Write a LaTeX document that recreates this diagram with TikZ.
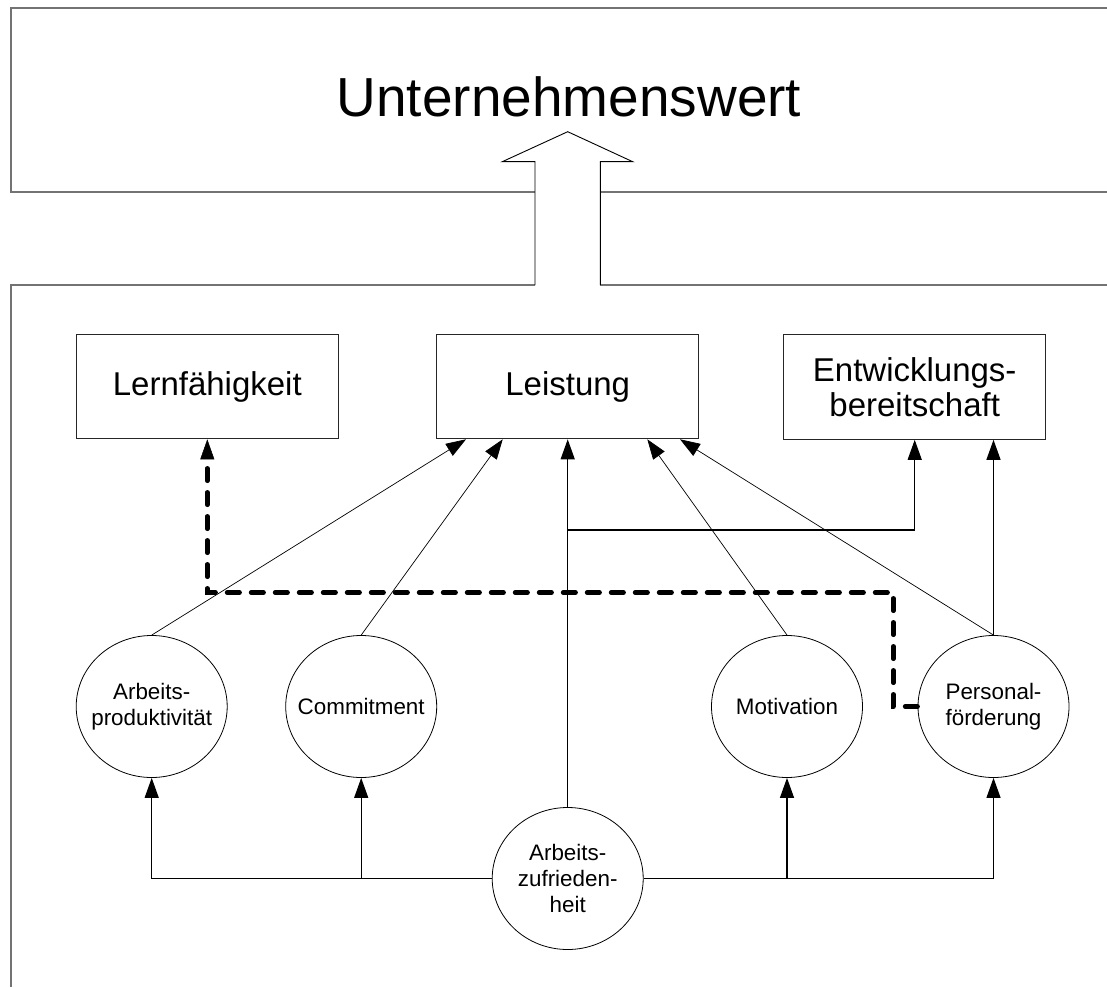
\documentclass[tikz,border=0pt]{standalone}
\usepackage{fontspec}
\setmainfont{Liberation Sans}
\usetikzlibrary{arrows.meta,shapes.geometric,calc}
\tikzset{
  box/.style={draw=black!85, line width=1.1pt, minimum width=262pt, minimum height=104.5pt, inner sep=0pt, align=center, font=\fontsize{33}{35.3}\selectfont},
  circ/.style={ellipse, draw=black, line width=0.8pt, minimum width=151pt, minimum height=142pt, inner sep=0pt},
  ctext/.style={inner sep=0pt, align=center, font=\fontsize{22.4}{25.8}\selectfont},
  frame/.style={draw=black!55, line width=1.5pt},
  thinarrow/.style={line width=0.7pt, -{Triangle[length=20pt,width=14pt]}},
  ortharrow/.style={line width=1.2pt, -{Triangle[length=20pt,width=14pt]}},
  dasharrow/.style={line width=4.5pt, line cap=round, dash pattern=on 12.5pt off 11.5pt, -{Triangle[length=20pt,width=14pt,line width=0.5pt]}},
  bigarrow/.style={draw=black, line width=0.9pt},
}
\begin{document}
\begin{tikzpicture}[x=1pt,y=-1pt]
\useasboundingbox (0,0) rectangle (1107,987);
% frames
\draw[frame] (535,192) -- (11,192) -- (11,8) -- (1107,8);
\draw[frame] (600.3,192) -- (1107,192);
\draw[frame] (535,285) -- (11,285) -- (11,987);
\draw[frame] (600.3,285) -- (1107,285);
% big arrow
\draw[bigarrow, fill=white] (535,285) -- (535,161.7) -- (502.3,161.7) -- (567.7,131.7) -- (632.7,161.7) -- (600.3,161.7) -- (600.3,285);
\node[font=\fontsize{55}{60}\selectfont, anchor=base, inner sep=0pt] (uw) at (569,116.7) {Unternehmenswert};
% boxes
\node[box] (lern) at (207.3,386.5) {\raisebox{-2pt}{Lernfähigkeit}};
\node[box] (leist) at (567.7,386.5) {\raisebox{-2pt}{Leistung}};
\node[box] (entw) at (914.7,387) {Entwicklungs-\\bereitschaft};
% circles
\node[circ, label={[ctext]center:Arbeits-\\produktivität}] (ap) at (151.7,706.5) {};
\node[circ, label={[ctext]center:Commitment}] (com) at (361.2,706.5) {};
\node[circ, label={[ctext]center:Motivation}] (mot) at (787,706.5) {};
\node[circ, label={[ctext]center:Personal-\\förderung}] (pf) at (993.5,706.5) {};
\node[circ, label={[ctext]center:Arbeits-\\zufrieden-\\heit}] (az) at (567.7,878.5) {};
% connectors to Leistung
\draw[thinarrow] (ap.north) -- ($(leist.south)+(-101.7,0)$);
\draw[thinarrow] (com.north) -- ($(leist.south)+(-65,0)$);
\draw[thinarrow] (mot.north) -- ($(leist.south)+(79.6,0)$);
\draw[thinarrow] (pf.north) -- ($(leist.south)+(112.3,0)$);
\draw[ortharrow] (az.north) -- (leist.south);
\coordinate (br) at (567.7,530);
\draw[ortharrow] (br) -| (entw.south);
\draw[ortharrow] (pf.north) -- (pf.north |- entw.south);
% bottom connectors
\draw[ortharrow] (az.west) -| (ap.south);
\draw[ortharrow] (az.east) -| (pf.south);
\draw[ortharrow] (com.south |- az.west) -- (com.south);
\draw[ortharrow] (mot.south |- az.east) -- (mot.south);
% dashed
\coordinate (dk) at (893.3,592.5);
\draw[dasharrow] (pf.west) -- (pf.west -| dk) -- (dk) -- (dk -| lern.south) -- (lern.south);
\end{tikzpicture}
\end{document}
